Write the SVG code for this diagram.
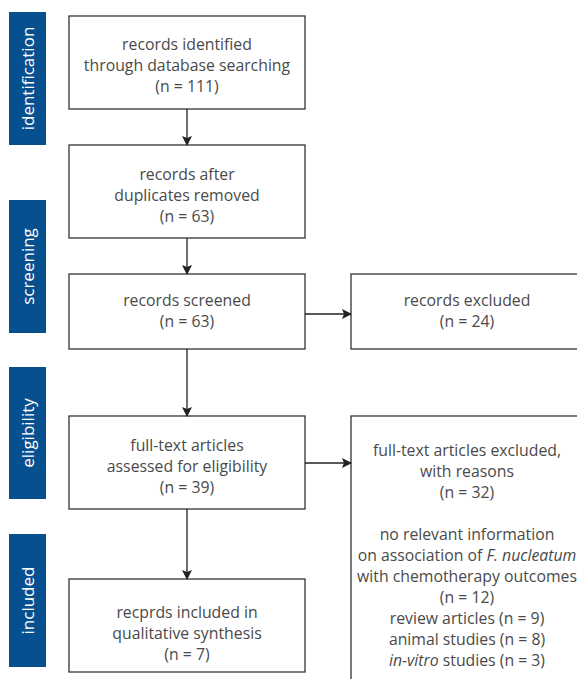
<svg xmlns="http://www.w3.org/2000/svg" width="577" height="679" viewBox="0 0 577 679">
<defs>
<marker id="ah" markerWidth="10" markerHeight="10" refX="9" refY="5" orient="auto" markerUnits="userSpaceOnUse">
<path d="M0,0 L10,5 L0,10 L2,5 Z" fill="#222"/>
</marker>
<style>
.bar{fill:#07508f}
.lbl{fill:#fff;font-family:"Open Sans","Liberation Sans",sans-serif;font-size:17px;text-anchor:middle;dominant-baseline:central}
.box{fill:#fff;stroke:#333;stroke-width:1.3}
.t{fill:#4a4a4a;font-family:"Open Sans","Liberation Sans",sans-serif;font-size:15.8px;text-anchor:middle}
.c{stroke:#222;stroke-width:1.3;fill:none;marker-end:url(#ah)}
</style>
</defs>
<rect width="577" height="679" fill="#fff"/>
<g id="stage-identification"><rect class="bar" x="9" y="12" width="37" height="133"/><text class="lbl" transform="translate(27.5,78.5) rotate(-90)">identification</text></g>
<g id="stage-screening"><rect class="bar" x="9" y="200" width="37" height="133"/><text class="lbl" transform="translate(27.5,266.5) rotate(-90)">screening</text></g>
<g id="stage-eligibility"><rect class="bar" x="9" y="367" width="37" height="132"/><text class="lbl" transform="translate(27.5,433) rotate(-90)">eligibility</text></g>
<g id="stage-included"><rect class="bar" x="9" y="534" width="37" height="133"/><text class="lbl" transform="translate(27.5,600.5) rotate(-90)">included</text></g>

<g id="n1"><rect class="box" x="69" y="16" width="236" height="93"/>
<text class="t" x="187" y="50">records identified</text>
<text class="t" x="187" y="71">through database searching</text>
<text class="t" x="187" y="92">(n = 111)</text></g>

<g id="n2"><rect class="box" x="69" y="145" width="236" height="93"/>
<text class="t" x="187" y="180">records after</text>
<text class="t" x="187" y="201">duplicates removed</text>
<text class="t" x="187" y="222">(n = 63)</text></g>

<g id="n3"><rect class="box" x="69" y="274" width="236" height="75"/>
<text class="t" x="187" y="306">records screened</text>
<text class="t" x="187" y="327">(n = 63)</text></g>

<g id="n4"><rect class="box" x="351" y="274" width="240" height="75"/>
<text class="t" x="467" y="306">records excluded</text>
<text class="t" x="467" y="327">(n = 24)</text></g>

<g id="n5"><rect class="box" x="69" y="416" width="236" height="93"/>
<text class="t" x="187" y="451">full-text articles</text>
<text class="t" x="187" y="472">assessed for eligibility</text>
<text class="t" x="187" y="493">(n = 39)</text></g>

<g id="n6"><rect class="box" x="351" y="416" width="240" height="280"/>
<text class="t" x="467" y="456">full-text articles excluded,</text>
<text class="t" x="467" y="477">with reasons</text>
<text class="t" x="467" y="498">(n = 32)</text>
<text class="t" x="467" y="540">no relevant information</text>
<text class="t" x="467" y="561">on association of <tspan font-style="italic">F. nucleatum</tspan></text>
<text class="t" x="467" y="582">with chemotherapy outcomes</text>
<text class="t" x="467" y="603">(n = 12)</text>
<text class="t" x="467" y="624">review articles (n = 9)</text>
<text class="t" x="467" y="645">animal studies (n = 8)</text>
<text class="t" x="467" y="666"><tspan font-style="italic">in-vitro</tspan> studies (n = 3)</text></g>

<g id="n7"><rect class="box" x="69" y="579" width="236" height="93"/>
<text class="t" x="187" y="618">recprds included in</text>
<text class="t" x="187" y="639">qualitative synthesis</text>
<text class="t" x="187" y="660">(n = 7)</text></g>

<g id="connectors">
<line class="c" x1="187" y1="109" x2="187" y2="145"/>
<line class="c" x1="187" y1="238" x2="187" y2="274"/>
<line class="c" x1="305" y1="314" x2="351" y2="314"/>
<line class="c" x1="187" y1="349" x2="187" y2="416"/>
<line class="c" x1="305" y1="463" x2="351" y2="463"/>
<line class="c" x1="187" y1="509" x2="187" y2="579"/>
</g>
</svg>
